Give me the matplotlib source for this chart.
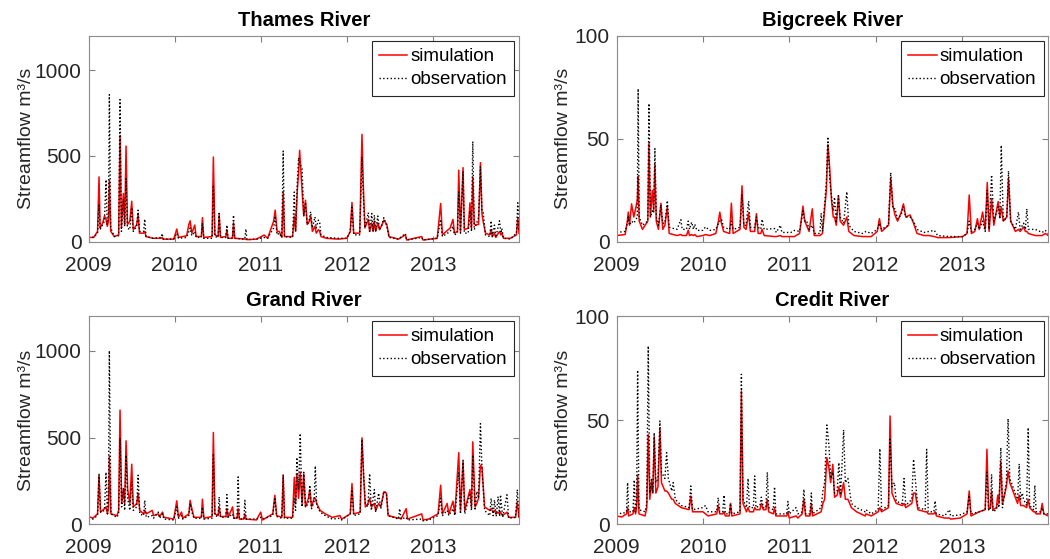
import numpy as np
import matplotlib
matplotlib.use("Agg")
import matplotlib.pyplot as plt

plt.rcParams['font.family'] = ['Liberation Sans', 'DejaVu Sans']

# time in decimal years, simulated and observed streamflow (m3/s)
thames_t = [2009.000, 2009.008, 2009.060, 2009.105, 2009.122, 2009.135, 2009.165, 2009.185, 2009.203, 2009.218,
            2009.232, 2009.242, 2009.258, 2009.300, 2009.350, 2009.366, 2009.382, 2009.405, 2009.420, 2009.436,
            2009.452, 2009.480, 2009.502, 2009.520, 2009.560, 2009.576, 2009.592, 2009.640, 2009.653, 2009.668,
            2009.750, 2009.845, 2009.855, 2009.868, 2009.990, 2010.025, 2010.045, 2010.140, 2010.165, 2010.180,
            2010.200, 2010.234, 2010.250, 2010.310, 2010.323, 2010.338, 2010.435, 2010.450, 2010.468, 2010.505,
            2010.517, 2010.533, 2010.595, 2010.607, 2010.620, 2010.672, 2010.684, 2010.698, 2010.815, 2010.828,
            2010.840, 2010.950, 2011.040, 2011.080, 2011.150, 2011.168, 2011.190, 2011.215, 2011.245, 2011.261,
            2011.276, 2011.370, 2011.390, 2011.405, 2011.425, 2011.440, 2011.452, 2011.480, 2011.500, 2011.520,
            2011.540, 2011.565, 2011.580, 2011.600, 2011.630, 2011.645, 2011.670, 2011.685, 2011.700, 2011.760,
            2011.900, 2012.000, 2012.040, 2012.060, 2012.080, 2012.150, 2012.176, 2012.190, 2012.210, 2012.250,
            2012.265, 2012.290, 2012.305, 2012.320, 2012.335, 2012.360, 2012.380, 2012.410, 2012.430, 2012.465,
            2012.490, 2012.600, 2012.680, 2012.695, 2012.870, 2012.885, 2013.050, 2013.090, 2013.110, 2013.200,
            2013.233, 2013.250, 2013.285, 2013.300, 2013.320, 2013.350, 2013.365, 2013.410, 2013.430, 2013.448,
            2013.463, 2013.480, 2013.530, 2013.552, 2013.570, 2013.583, 2013.610, 2013.660, 2013.676, 2013.690,
            2013.715, 2013.730, 2013.773, 2013.790, 2013.800, 2013.820, 2013.900, 2013.970, 2013.986, 2014.000]
thames_sim = [35, 25, 25, 60, 378, 80, 110, 150, 130, 90,
              120, 358, 60, 30, 40, 620, 80, 281, 100, 558,
              100, 120, 236, 70, 100, 160, 50, 50, 60, 30,
              20, 20, 25, 15, 15, 74, 25, 35, 100, 122,
              50, 97, 30, 30, 140, 25, 30, 494, 40, 30,
              160, 25, 30, 70, 20, 20, 110, 20, 15, 15,
              12, 15, 39, 20, 120, 184, 60, 60, 25, 290,
              30, 30, 150, 60, 300, 400, 533, 300, 150, 242,
              100, 120, 150, 60, 90, 50, 70, 60, 30, 20,
              15, 20, 60, 229, 50, 50, 626, 350, 80, 130,
              60, 110, 60, 120, 60, 110, 70, 100, 126, 100,
              30, 15, 40, 10, 30, 10, 20, 223, 40, 80,
              130, 50, 60, 417, 60, 432, 70, 80, 227, 80,
              378, 100, 100, 461, 160, 120, 50, 40, 70, 30,
              50, 25, 60, 40, 50, 20, 20, 40, 140, 50]
thames_obs = [55, 30, 25, 50, 220, 70, 100, 120, 362, 100,
              150, 858, 80, 30, 35, 829, 60, 250, 90, 368,
              80, 70, 200, 60, 90, 184, 60, 60, 132, 30,
              20, 25, 48, 15, 15, 50, 20, 25, 60, 80,
              35, 60, 25, 25, 110, 20, 20, 330, 30, 25,
              165, 25, 25, 97, 20, 20, 155, 20, 15, 74,
              12, 15, 25, 20, 80, 150, 40, 50, 25, 529,
              30, 25, 290, 60, 350, 490, 460, 426, 150, 230,
              100, 130, 175, 80, 145, 80, 126, 110, 40, 25,
              20, 20, 60, 200, 40, 40, 494, 290, 80, 170,
              60, 165, 60, 155, 60, 150, 70, 100, 140, 90,
              25, 15, 48, 10, 25, 10, 20, 130, 30, 60,
              90, 40, 50, 290, 50, 410, 50, 50, 180, 60,
              585, 70, 140, 440, 180, 174, 40, 30, 122, 30,
              97, 25, 122, 50, 78, 20, 15, 50, 227, 60]

bigcreek_t = [2009.000, 2009.100, 2009.125, 2009.136, 2009.150, 2009.174, 2009.200, 2009.240, 2009.250, 2009.262,
              2009.300, 2009.362, 2009.375, 2009.392, 2009.414, 2009.430, 2009.444, 2009.460, 2009.485, 2009.514,
              2009.535, 2009.560, 2009.588, 2009.610, 2009.700, 2009.745, 2009.760, 2009.810, 2009.830, 2009.845,
              2009.870, 2009.890, 2009.906, 2009.930, 2010.000, 2010.030, 2010.080, 2010.150, 2010.180, 2010.196,
              2010.215, 2010.240, 2010.310, 2010.330, 2010.350, 2010.430, 2010.453, 2010.475, 2010.500, 2010.530,
              2010.550, 2010.600, 2010.620, 2010.640, 2010.670, 2010.686, 2010.710, 2010.830, 2010.850, 2010.897,
              2010.915, 2011.020, 2011.060, 2011.120, 2011.159, 2011.180, 2011.200, 2011.230, 2011.267, 2011.290,
              2011.355, 2011.370, 2011.385, 2011.430, 2011.448, 2011.470, 2011.490, 2011.510, 2011.525, 2011.545,
              2011.570, 2011.590, 2011.630, 2011.667, 2011.690, 2011.750, 2011.850, 2011.890, 2011.950, 2012.020,
              2012.045, 2012.070, 2012.150, 2012.176, 2012.200, 2012.225, 2012.255, 2012.295, 2012.323, 2012.350,
              2012.400, 2012.440, 2012.480, 2012.560, 2012.620, 2012.680, 2012.720, 2012.850, 2013.010, 2013.060,
              2013.085, 2013.110, 2013.150, 2013.180, 2013.200, 2013.240, 2013.270, 2013.294, 2013.315, 2013.344,
              2013.370, 2013.420, 2013.440, 2013.456, 2013.480, 2013.520, 2013.540, 2013.565, 2013.620, 2013.655,
              2013.675, 2013.715, 2013.735, 2013.752, 2013.770, 2013.850, 2013.930, 2013.965, 2014.000]
bigcreek_sim = [3.0, 3.5, 10.0, 14.4, 8.0, 18.4, 12.0, 20.0, 31.7, 10.0,
                6.0, 10.0, 47.7, 12.0, 25.0, 15.0, 37.6, 10.0, 6.0, 18.7,
                6.0, 8.0, 17.0, 4.0, 3.0, 3.5, 3.0, 3.0, 5.6, 3.0,
                3.5, 3.0, 3.5, 2.5, 3.0, 3.5, 3.0, 4.0, 10.0, 14.4,
                9.0, 5.0, 4.0, 18.7, 4.0, 6.0, 27.2, 7.0, 6.0, 14.0,
                5.0, 5.0, 13.6, 4.0, 4.0, 6.0, 3.0, 2.5, 2.5, 3.0,
                2.5, 2.5, 2.5, 4.0, 17.3, 10.0, 8.0, 5.0, 16.0, 3.0,
                3.0, 3.5, 4.0, 25.0, 47.2, 35.0, 20.0, 12.0, 12.0, 8.0,
                22.4, 10.0, 8.0, 12.0, 5.0, 3.0, 2.5, 2.5, 2.5, 5.0,
                11.2, 5.0, 8.0, 31.0, 18.0, 13.0, 10.0, 14.0, 18.4, 12.0,
                13.0, 9.0, 4.0, 3.0, 3.0, 2.5, 2.0, 2.0, 2.5, 4.0,
                22.7, 4.0, 5.0, 11.2, 6.0, 14.4, 6.0, 28.8, 5.0, 21.0,
                8.0, 19.5, 12.0, 17.0, 10.0, 12.0, 31.0, 10.0, 5.0, 6.0,
                5.0, 7.2, 5.0, 5.0, 4.0, 3.0, 3.0, 4.0, 3.0]
bigcreek_obs = [4.5, 5.0, 9.0, 12.0, 8.0, 10.0, 9.0, 12.0, 74.4, 12.0,
                8.0, 10.0, 67.2, 12.0, 15.0, 14.0, 45.3, 12.0, 8.0, 18.0,
                9.0, 9.0, 20.0, 7.0, 6.0, 10.7, 6.0, 6.0, 10.0, 6.0,
                9.5, 6.0, 8.5, 5.5, 5.5, 7.2, 5.5, 6.0, 9.0, 10.0,
                11.0, 7.0, 6.0, 10.0, 6.0, 7.0, 23.0, 8.0, 8.0, 19.7,
                7.0, 7.0, 12.0, 7.0, 6.0, 10.9, 6.0, 6.4, 4.5, 8.0,
                4.5, 4.5, 5.5, 5.0, 15.0, 10.0, 10.4, 6.0, 8.0, 4.0,
                4.0, 13.9, 5.0, 28.8, 51.0, 30.0, 22.0, 15.0, 21.6, 9.0,
                22.4, 12.0, 9.0, 24.3, 8.0, 5.0, 4.0, 5.0, 4.0, 6.0,
                9.0, 6.0, 8.0, 33.6, 16.0, 16.0, 11.0, 13.0, 17.0, 12.0,
                12.0, 10.0, 6.0, 4.5, 5.0, 5.5, 3.0, 2.5, 2.5, 4.0,
                10.0, 5.0, 6.0, 9.0, 6.0, 10.0, 5.0, 25.0, 6.0, 32.5,
                10.0, 17.0, 11.0, 46.9, 10.0, 12.0, 34.4, 10.0, 6.0, 14.4,
                6.0, 9.0, 6.0, 16.0, 6.0, 6.0, 4.5, 5.6, 4.0]

grand_t = [2009.000, 2009.050, 2009.105, 2009.122, 2009.140, 2009.185, 2009.203, 2009.220, 2009.232, 2009.242,
           2009.260, 2009.330, 2009.350, 2009.366, 2009.385, 2009.405, 2009.420, 2009.436, 2009.455, 2009.480,
           2009.502, 2009.520, 2009.560, 2009.576, 2009.595, 2009.640, 2009.653, 2009.670, 2009.740, 2009.755,
           2009.810, 2009.825, 2009.860, 2009.875, 2009.990, 2010.025, 2010.045, 2010.080, 2010.095, 2010.165,
           2010.180, 2010.200, 2010.225, 2010.310, 2010.323, 2010.340, 2010.435, 2010.450, 2010.468, 2010.505,
           2010.517, 2010.533, 2010.595, 2010.607, 2010.622, 2010.673, 2010.688, 2010.725, 2010.738, 2010.752,
           2010.805, 2010.816, 2010.830, 2010.950, 2011.000, 2011.020, 2011.140, 2011.164, 2011.185, 2011.245,
           2011.261, 2011.276, 2011.370, 2011.390, 2011.405, 2011.420, 2011.440, 2011.459, 2011.480, 2011.500,
           2011.520, 2011.555, 2011.570, 2011.590, 2011.620, 2011.634, 2011.650, 2011.690, 2011.750, 2011.830,
           2011.920, 2011.940, 2012.040, 2012.060, 2012.080, 2012.155, 2012.176, 2012.195, 2012.215, 2012.245,
           2012.265, 2012.285, 2012.320, 2012.335, 2012.370, 2012.395, 2012.430, 2012.460, 2012.480, 2012.600,
           2012.614, 2012.630, 2012.690, 2012.705, 2012.870, 2012.885, 2012.950, 2013.060, 2013.090, 2013.110,
           2013.165, 2013.185, 2013.233, 2013.255, 2013.300, 2013.320, 2013.350, 2013.370, 2013.430, 2013.448,
           2013.463, 2013.490, 2013.510, 2013.530, 2013.552, 2013.570, 2013.600, 2013.660, 2013.676, 2013.700,
           2013.715, 2013.735, 2013.757, 2013.775, 2013.785, 2013.810, 2013.860, 2013.880, 2013.960, 2013.980,
           2014.000]
grand_sim = [45, 35, 60, 280, 70, 90, 100, 60, 100, 392,
             60, 50, 80, 658, 120, 200, 120, 481, 200, 120,
             346, 100, 120, 180, 80, 60, 80, 60, 80, 50,
             60, 45, 70, 40, 30, 135, 40, 70, 35, 60,
             138, 90, 40, 40, 144, 35, 45, 529, 60, 50,
             100, 45, 45, 90, 40, 100, 35, 35, 90, 30,
             30, 60, 30, 25, 70, 25, 60, 167, 50, 40,
             280, 40, 40, 270, 120, 290, 150, 300, 120, 290,
             100, 150, 200, 100, 150, 150, 120, 80, 60, 40,
             50, 30, 60, 235, 60, 70, 498, 280, 100, 120,
             150, 100, 120, 80, 120, 100, 187, 180, 50, 35,
             35, 30, 90, 30, 60, 25, 30, 60, 225, 60,
             120, 60, 133, 60, 413, 80, 360, 80, 200, 100,
             475, 100, 120, 150, 340, 330, 100, 80, 90, 70,
             80, 60, 70, 60, 70, 50, 70, 40, 40, 130,
             40]
grand_obs = [35, 30, 50, 288, 70, 80, 300, 60, 150, 1000,
             60, 40, 60, 498, 100, 210, 80, 398, 150, 80,
             244, 80, 100, 283, 60, 50, 138, 40, 50, 35,
             70, 35, 60, 30, 25, 100, 35, 50, 30, 50,
             120, 70, 35, 35, 100, 30, 35, 408, 50, 45,
             158, 40, 40, 171, 40, 60, 35, 35, 273, 30,
             30, 138, 30, 30, 40, 30, 50, 155, 45, 35,
             288, 35, 35, 150, 80, 385, 200, 523, 100, 300,
             100, 120, 225, 90, 130, 336, 110, 70, 50, 30,
             35, 25, 60, 200, 50, 60, 490, 290, 120, 100,
             292, 80, 200, 70, 180, 90, 190, 180, 50, 30,
             90, 30, 40, 25, 30, 20, 25, 50, 150, 50,
             80, 50, 90, 50, 300, 60, 369, 60, 180, 80,
             400, 80, 190, 150, 580, 320, 80, 50, 150, 50,
             140, 45, 160, 45, 170, 40, 170, 35, 40, 200,
             40]

credit_t = [2009.000, 2009.060, 2009.115, 2009.128, 2009.140, 2009.190, 2009.205, 2009.220, 2009.232, 2009.244,
            2009.260, 2009.330, 2009.350, 2009.367, 2009.385, 2009.405, 2009.420, 2009.436, 2009.455, 2009.480,
            2009.502, 2009.520, 2009.560, 2009.580, 2009.600, 2009.640, 2009.656, 2009.680, 2009.750, 2009.840,
            2009.860, 2009.880, 2010.000, 2010.030, 2010.060, 2010.160, 2010.177, 2010.195, 2010.230, 2010.245,
            2010.260, 2010.305, 2010.320, 2010.335, 2010.430, 2010.446, 2010.465, 2010.505, 2010.523, 2010.540,
            2010.585, 2010.600, 2010.615, 2010.660, 2010.677, 2010.700, 2010.730, 2010.746, 2010.762, 2010.815,
            2010.830, 2010.845, 2010.970, 2010.985, 2011.000, 2011.080, 2011.100, 2011.150, 2011.170, 2011.190,
            2011.240, 2011.256, 2011.270, 2011.370, 2011.390, 2011.410, 2011.436, 2011.460, 2011.480, 2011.505,
            2011.525, 2011.555, 2011.575, 2011.595, 2011.630, 2011.650, 2011.680, 2011.720, 2011.780, 2011.880,
            2011.890, 2011.950, 2012.030, 2012.050, 2012.070, 2012.150, 2012.168, 2012.190, 2012.218, 2012.240,
            2012.310, 2012.330, 2012.350, 2012.420, 2012.440, 2012.460, 2012.490, 2012.575, 2012.592, 2012.610,
            2012.675, 2012.690, 2012.705, 2012.800, 2012.856, 2012.870, 2012.980, 2013.060, 2013.085, 2013.105,
            2013.200, 2013.270, 2013.290, 2013.310, 2013.330, 2013.344, 2013.360, 2013.400, 2013.415, 2013.430,
            2013.451, 2013.470, 2013.515, 2013.535, 2013.555, 2013.600, 2013.645, 2013.664, 2013.680, 2013.700,
            2013.714, 2013.750, 2013.768, 2013.785, 2013.830, 2013.845, 2013.860, 2013.910, 2013.930, 2013.950,
            2014.000]
credit_sim = [4.0, 3.5, 5.0, 8.0, 4.0, 5.0, 8.0, 5.0, 8.0, 23.7,
              5.0, 4.0, 8.0, 43.0, 12.0, 20.0, 15.0, 42.0, 15.0, 18.0,
              46.0, 20.0, 16.0, 16.0, 15.0, 12.0, 12.0, 10.0, 8.0, 7.0,
              13.6, 6.0, 6.0, 5.0, 4.0, 5.0, 9.0, 5.0, 5.0, 6.0,
              4.0, 4.0, 10.0, 4.0, 5.0, 64.0, 10.0, 6.0, 8.0, 6.0,
              6.0, 8.0, 7.0, 7.0, 10.0, 7.0, 7.0, 12.0, 6.0, 5.0,
              8.0, 4.0, 4.0, 6.0, 3.0, 4.0, 3.0, 5.0, 12.0, 4.0,
              4.0, 10.0, 4.0, 6.0, 10.0, 12.0, 32.0, 27.0, 20.0, 28.8,
              13.0, 14.0, 18.0, 13.0, 20.0, 12.0, 12.0, 8.0, 6.0, 4.0,
              5.0, 4.0, 6.0, 8.0, 6.0, 8.0, 52.0, 15.0, 12.0, 10.0,
              9.0, 10.0, 8.0, 10.0, 15.0, 15.0, 7.0, 6.0, 6.0, 5.0,
              5.0, 6.0, 4.0, 3.0, 3.0, 2.5, 3.0, 5.0, 16.0, 4.0,
              6.0, 7.0, 36.0, 7.0, 8.0, 16.0, 7.0, 8.0, 14.0, 10.0,
              30.0, 10.0, 18.0, 25.6, 20.0, 15.0, 10.0, 14.0, 9.0, 9.0,
              9.0, 8.0, 12.0, 8.0, 6.0, 6.0, 5.0, 5.0, 10.0, 5.0,
              4.0]
credit_obs = [6.0, 5.0, 6.0, 20.0, 6.0, 6.0, 21.3, 6.0, 10.0, 74.0,
              7.0, 6.0, 10.0, 85.6, 15.0, 22.0, 15.0, 44.0, 20.0, 22.0,
              49.6, 25.0, 22.0, 34.4, 22.0, 16.0, 20.0, 12.0, 9.0, 8.0,
              18.4, 7.0, 8.0, 9.0, 6.0, 6.0, 12.8, 6.0, 6.0, 14.0,
              5.0, 5.0, 10.0, 5.0, 6.0, 72.0, 12.0, 8.0, 22.0, 8.0,
              8.0, 23.2, 8.0, 9.0, 13.0, 8.0, 8.0, 25.0, 8.0, 7.0,
              18.0, 5.0, 5.0, 11.0, 5.0, 8.0, 5.0, 6.0, 16.8, 5.0,
              5.0, 15.0, 5.0, 8.0, 16.0, 20.0, 47.7, 38.0, 22.0, 25.0,
              15.0, 16.0, 29.6, 14.0, 45.3, 20.0, 22.0, 10.0, 8.0, 6.0,
              7.0, 5.0, 7.0, 36.3, 7.0, 9.0, 41.6, 18.0, 20.0, 11.0,
              10.0, 22.0, 9.0, 12.0, 31.2, 22.0, 8.0, 7.0, 36.0, 6.0,
              6.0, 11.2, 5.0, 4.0, 7.0, 4.0, 4.5, 6.0, 14.0, 5.0,
              6.0, 7.0, 25.0, 7.0, 7.0, 24.0, 6.0, 7.0, 10.0, 8.0,
              36.8, 8.0, 20.0, 50.7, 22.0, 17.0, 12.0, 29.0, 12.0, 15.0,
              12.0, 9.0, 46.4, 9.0, 7.0, 18.7, 6.0, 6.0, 8.0, 5.0,
              5.0]

year_ticks = [2009, 2010, 2011, 2012, 2013]

panels = [
    ("Thames River", thames_t, thames_sim, thames_obs, 1200, [0, 500, 1000]),
    ("Bigcreek River", bigcreek_t, bigcreek_sim, bigcreek_obs, 100, [0, 50, 100]),
    ("Grand River", grand_t, grand_sim, grand_obs, 1200, [0, 500, 1000]),
    ("Credit River", credit_t, credit_sim, credit_obs, 100, [0, 50, 100]),
]

# axes boxes in figure fractions (left, bottom, width, height)
boxes = [
    [0.0843, 0.5676, 0.4100, 0.3680],
    [0.5872, 0.5676, 0.4111, 0.3680],
    [0.0843, 0.0621, 0.4100, 0.3726],
    [0.5872, 0.0621, 0.4111, 0.3726],
]
ylabel_x = [-0.124, -0.104, -0.124, -0.104]

fig = plt.figure(figsize=(10.5, 5.59), dpi=100)

for (title, t, sim, obs, ymax, yticks), box, lx in zip(panels, boxes, ylabel_x):
    ax = fig.add_axes(box)
    ax.plot(t, sim, color='red', lw=1.1, label='simulation')
    ax.plot(t, obs, color='black', ls=':', lw=1.0, label='observation')
    ax.set_xlim(2009, 2014)
    ax.set_ylim(0, ymax)
    ax.set_xticks(year_ticks)
    ax.set_xticklabels([str(y) for y in year_ticks])
    ax.set_yticks(yticks)
    ax.tick_params(direction='in', top=True, right=True, labelsize=15,
                   labelcolor='#262626', color='#808080', length=4)
    ax.tick_params(axis='x', pad=10)
    ax.tick_params(axis='y', pad=5)
    for s in ax.spines.values():
        s.set_color('#8c8c8c')
        s.set_linewidth(0.8)
    ax.set_title(title, fontsize=14.5, fontweight='bold', pad=7.5)
    ax.set_ylabel('Streamflow m³/s', fontsize=14, color='#262626')
    ax.yaxis.set_label_coords(lx, 0.5)
    leg = ax.legend(loc='upper right', fontsize=13.5, fancybox=False,
                    framealpha=1, edgecolor='#262626', handlelength=1.5,
                    borderpad=0.4, labelspacing=0.32, handletextpad=0.15,
                    borderaxespad=0.25)
    leg.get_frame().set_linewidth(0.8)

fig.savefig('out.png', dpi=100)
